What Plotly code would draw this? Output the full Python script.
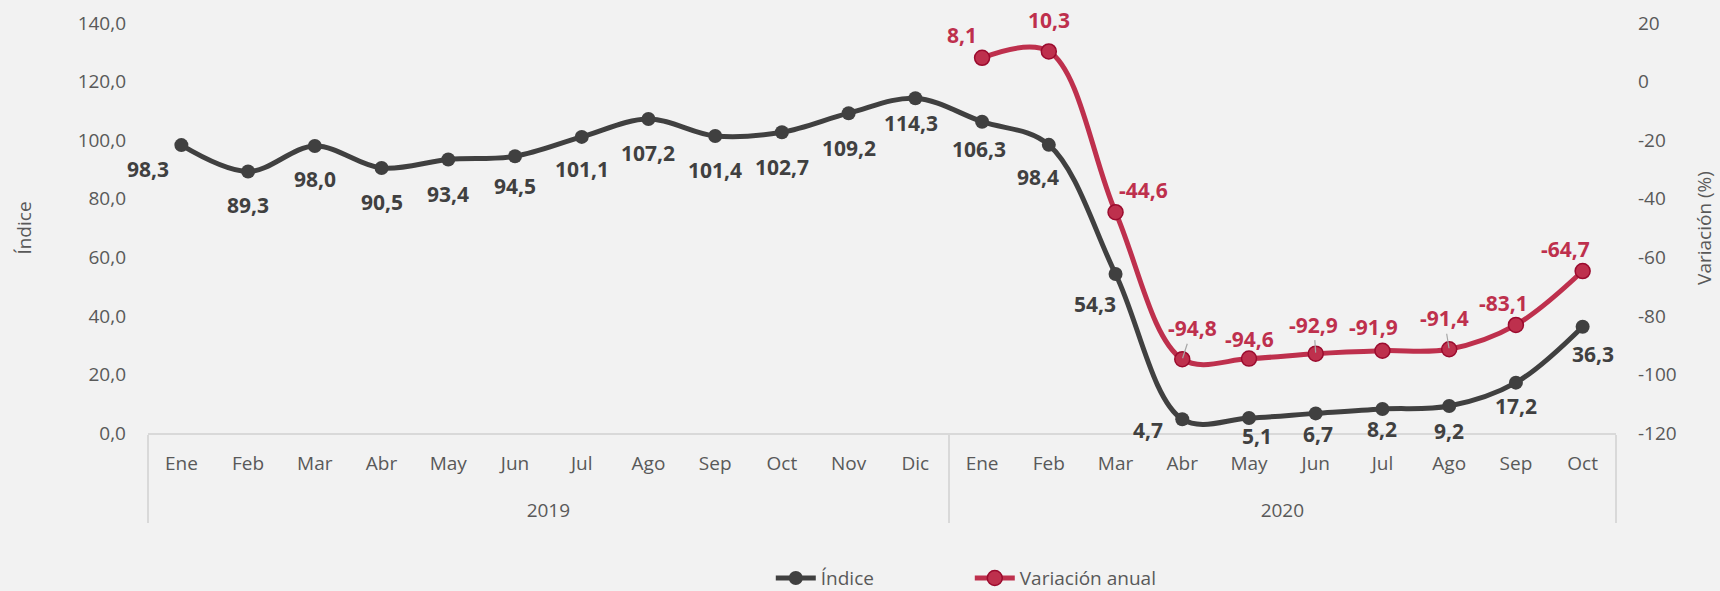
import plotly.graph_objects as go

# ---- data ----
years_idx = ["2019"] * 12 + ["2020"] * 10
months_idx = ["Ene", "Feb", "Mar", "Abr", "May", "Jun", "Jul", "Ago", "Sep", "Oct", "Nov", "Dic",
              "Ene", "Feb", "Mar", "Abr", "May", "Jun", "Jul", "Ago", "Sep", "Oct"]
indice = [98.3, 89.3, 98.0, 90.5, 93.4, 94.5, 101.1, 107.2, 101.4, 102.7, 109.2, 114.3,
          106.3, 98.4, 54.3, 4.7, 5.1, 6.7, 8.2, 9.2, 17.2, 36.3]

years_var = ["2020"] * 10
months_var = ["Ene", "Feb", "Mar", "Abr", "May", "Jun", "Jul", "Ago", "Sep", "Oct"]
variacion = [8.1, 10.3, -44.6, -94.8, -94.6, -92.9, -91.9, -91.4, -83.1, -64.7]

y2_ticks = [-120, -100, -80, -60, -40, -20, 0, 20]
y2_ticktext = ["-120", "-100", "-80", "-60", "-40", "-20", "0", "20"]

# ---- label offsets (pixels, dx right, dy down) ----
idx_dx = [-33, 0, 0, 0, 0, 0, 0, 0, 0, 0, 0, -4, -3, -11, -21, -34, 8, 2, 0, 0, 0, 10]
idx_dy = [24, 34, 33, 34, 35, 30, 32, 34, 34, 35, 35, 25, 27, 32, 30, 11, 18, 21, 20, 25, 23, 27]
var_dx = [-20, 0, 28, 10, 0, -2, -9, -5, -12, -17]
var_dy = [-23, -31, -22, -31, -20, -29, -24, -31, -22, -22]
var_leader = [False, False, False, True, False, True, False, True, False, False]

DARK = "#404040"
RED = "#be304d"
RED_EDGE = "#9b0b2e"
GRAY = "#595959"
FONT = "Open Sans"


def fmt(v):
    return f"{v:.1f}".replace(".", ",")


fig = go.Figure()
fig.add_trace(go.Scatter(
    x=[years_idx, months_idx], y=indice, name="Índice",
    mode="lines+markers",
    line=dict(color=DARK, width=5, shape="spline", smoothing=1),
    marker=dict(color=DARK, size=14),
    cliponaxis=False,
))
fig.add_trace(go.Scatter(
    x=[years_var, months_var], y=variacion, name="Variación anual", yaxis="y2",
    mode="lines+markers",
    line=dict(color=RED, width=5, shape="spline", smoothing=1),
    marker=dict(color=RED, size=15, line=dict(color=RED_EDGE, width=1.5)),
    cliponaxis=False,
))

annotations = []
for i, v in enumerate(indice):
    annotations.append(dict(
        x=i, y=v, xref="x", yref="y", text=fmt(v), showarrow=False,
        xshift=idx_dx[i], yshift=-idx_dy[i],
        font=dict(family=FONT, size=21, color=DARK, weight="bold"),
    ))
for j, v in enumerate(variacion):
    if var_leader[j]:
        annotations.append(dict(
            x=12 + j, y=v, xref="x", yref="y2", text=fmt(v), showarrow=True,
            ax=var_dx[j], ay=var_dy[j], arrowhead=0, arrowwidth=1.2,
            arrowcolor="#a6a6a6", standoff=1,
            font=dict(family=FONT, size=21, color=RED, weight="bold"),
        ))
    else:
        annotations.append(dict(
            x=12 + j, y=v, xref="x", yref="y2", text=fmt(v), showarrow=False,
            xshift=var_dx[j], yshift=-var_dy[j],
            font=dict(family=FONT, size=21, color=RED, weight="bold"),
        ))

fig.update_layout(
    width=1720, height=591,
    margin=dict(l=148, r=104, t=23, b=158, autoexpand=False),
    paper_bgcolor="#f2f2f2", plot_bgcolor="#f2f2f2",
    separators=",.",
    font=dict(family=FONT, size=19, color=GRAY),
    showlegend=True,
    legend=dict(orientation="h", x=0.5598, xanchor="center", y=-0.354, yanchor="middle",
                font=dict(family=FONT, size=19, color=GRAY), bgcolor="rgba(0,0,0,0)",
                itemwidth=40, entrywidth=144),
    annotations=annotations,
    xaxis=dict(
        type="multicategory", range=[-0.5, 21.5], automargin=False,
        showline=True, linecolor="#d9d9d9", linewidth=1.5,
        showgrid=False, zeroline=False,
        showdividers=True, dividercolor="#d9d9d9", dividerwidth=1.5,
        tickfont=dict(family=FONT, size=19, color=GRAY),
        tickson="labels", ticks="outside", ticklen=31, tickcolor="rgba(0,0,0,0)",
        ticklabelstandoff=-19,
    ),
    yaxis=dict(
        range=[0, 140], dtick=20, tickformat=".1f", automargin=False,
        showgrid=False, zeroline=False, showline=False, ticks="",
        tickfont=dict(family=FONT, size=19, color=GRAY),
        ticklabelstandoff=21,
        title=dict(text="Índice", font=dict(family=FONT, size=19, color=GRAY), standoff=40),
    ),
    yaxis2=dict(
        range=[-120, 20], tickvals=y2_ticks, ticktext=y2_ticktext, automargin=False,
        overlaying="y", side="right",
        showgrid=False, zeroline=False, showline=False, ticks="",
        tickfont=dict(family=FONT, size=19, color=GRAY),
        ticklabelstandoff=21,
        title=dict(text="Variación (%)", font=dict(family=FONT, size=19, color=GRAY), standoff=21),
    ),
)

fig.write_html("out.html", config={"displayModeBar": False},
               post_script="document.body.style.margin='0';document.body.style.overflow='hidden';")
